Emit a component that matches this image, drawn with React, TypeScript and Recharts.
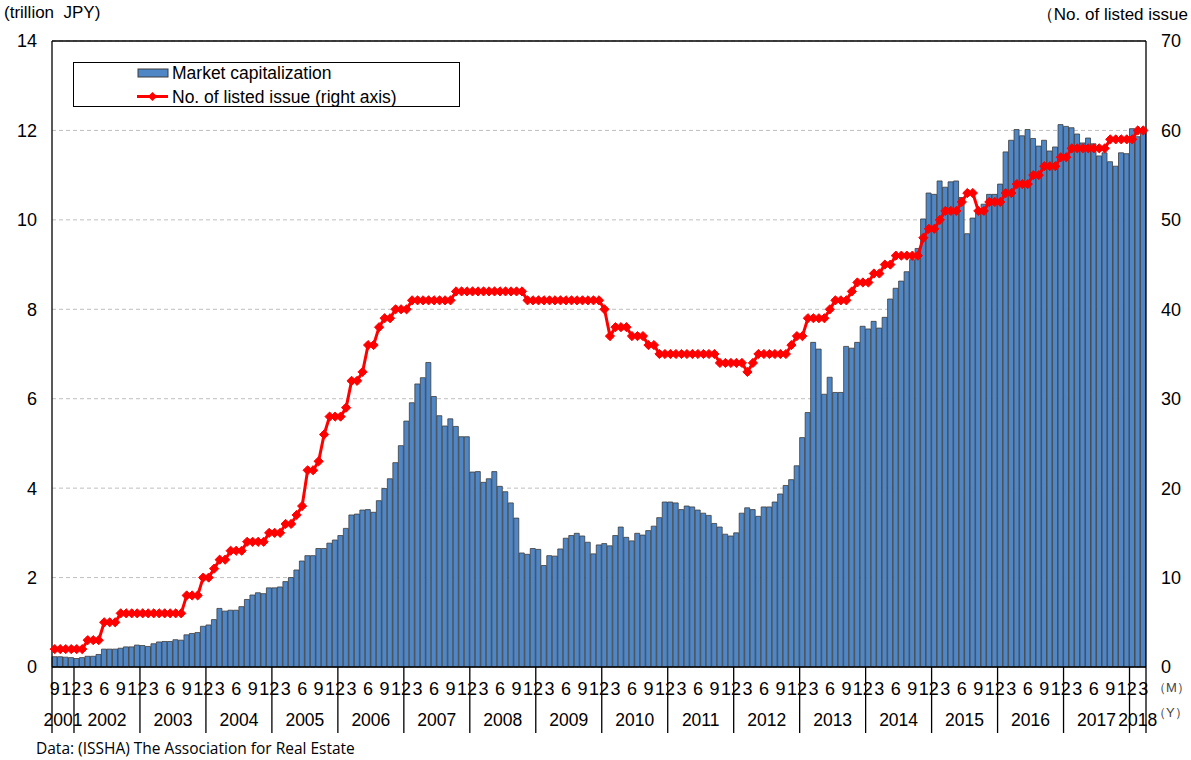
import React from 'react';
import { ComposedChart, Bar, Line, XAxis, YAxis, CartesianGrid, Legend, ReferenceLine } from 'recharts';

// first month in the series: Sep 2001
const START_YEAR = 2001;
const START_MONTH = 9;

// market capitalization (trillion JPY), month-end
const marketCap = [
  0.23, 0.23, 0.22, 0.21, // 2001 (Sep-Dec)
  0.19, 0.21, 0.24, 0.24, 0.28, 0.40, 0.40, 0.40, 0.42, 0.45, 0.45, 0.49, // 2002
  0.48, 0.46, 0.52, 0.56, 0.57, 0.57, 0.61, 0.60, 0.72, 0.75, 0.77, 0.91, // 2003
  0.94, 1.06, 1.31, 1.25, 1.27, 1.27, 1.35, 1.51, 1.61, 1.66, 1.64, 1.77, // 2004
  1.77, 1.79, 1.91, 2.00, 2.17, 2.37, 2.49, 2.49, 2.65, 2.65, 2.77, 2.84, // 2005
  2.94, 3.10, 3.40, 3.42, 3.51, 3.52, 3.46, 3.72, 3.99, 4.21, 4.57, 4.95, // 2006
  5.50, 5.91, 6.33, 6.47, 6.81, 6.05, 5.62, 5.39, 5.55, 5.38, 5.15, 5.15, // 2007
  4.36, 4.37, 4.13, 4.21, 4.37, 4.04, 3.92, 3.67, 3.33, 2.55, 2.52, 2.65, // 2008
  2.63, 2.27, 2.49, 2.48, 2.64, 2.88, 2.94, 2.99, 2.93, 2.79, 2.53, 2.73, // 2009
  2.76, 2.71, 2.94, 3.13, 2.90, 2.82, 2.99, 2.95, 3.05, 3.15, 3.34, 3.69, // 2010
  3.69, 3.67, 3.52, 3.60, 3.58, 3.51, 3.44, 3.39, 3.21, 3.13, 2.97, 2.93, // 2011
  3.00, 3.44, 3.56, 3.52, 3.37, 3.58, 3.58, 3.69, 3.87, 4.06, 4.19, 4.50, // 2012
  5.13, 5.69, 7.26, 7.11, 6.10, 6.48, 6.14, 6.14, 7.17, 7.13, 7.26, 7.62, // 2013
  7.56, 7.73, 7.58, 7.82, 8.23, 8.47, 8.63, 8.84, 9.11, 9.36, 10.02, 10.60, // 2014
  10.57, 10.87, 10.73, 10.85, 10.87, 10.50, 9.69, 10.04, 10.22, 10.35, 10.57, 10.57, // 2015
  10.80, 11.52, 11.78, 12.02, 11.88, 12.02, 11.82, 11.65, 11.78, 11.54, 11.63, 12.13, // 2016
  12.09, 12.06, 11.92, 11.72, 11.83, 11.70, 11.43, 11.50, 11.30, 11.20, 11.50, 11.48, // 2017
  12.04, 11.86, 11.99, // 2018 (Jan-Mar)
];

// number of listed issues (right axis)
const listedIssues = [
  2, 2, 2, 2, // 2001
  2, 2, 3, 3, 3, 5, 5, 5, 6, 6, 6, 6, // 2002
  6, 6, 6, 6, 6, 6, 6, 6, 8, 8, 8, 10, // 2003
  10, 11, 12, 12, 13, 13, 13, 14, 14, 14, 14, 15, // 2004
  15, 15, 16, 16, 17, 18, 22, 22, 23, 26, 28, 28, // 2005
  28, 29, 32, 32, 33, 36, 36, 38, 39, 39, 40, 40, // 2006
  40, 41, 41, 41, 41, 41, 41, 41, 41, 42, 42, 42, // 2007
  42, 42, 42, 42, 42, 42, 42, 42, 42, 42, 41, 41, // 2008
  41, 41, 41, 41, 41, 41, 41, 41, 41, 41, 41, 41, // 2009
  40, 37, 38, 38, 38, 37, 37, 37, 36, 36, 35, 35, // 2010
  35, 35, 35, 35, 35, 35, 35, 35, 35, 34, 34, 34, // 2011
  34, 34, 33, 34, 35, 35, 35, 35, 35, 35, 36, 37, // 2012
  37, 39, 39, 39, 39, 40, 41, 41, 41, 42, 43, 43, // 2013
  43, 44, 44, 45, 45, 46, 46, 46, 46, 46, 48, 49, // 2014
  49, 50, 51, 51, 51, 52, 53, 53, 51, 51, 52, 52, // 2015
  52, 53, 53, 54, 54, 54, 55, 55, 56, 56, 56, 57, // 2016
  57, 58, 58, 58, 58, 58, 58, 58, 59, 59, 59, 59, // 2017
  59, 60, 60, // 2018
];

const leftTicks = [0, 2, 4, 6, 8, 10, 12, 14];
const rightTicks = [0, 10, 20, 30, 40, 50, 60, 70];
const labelledMonths = [3, 6, 9, 12];

const W = 1191;
const H = 760;
const LEFT_W = 52;
const RIGHT_W = 45;
const X_H = 93;
const PLOT_W = W - LEFT_W - RIGHT_W;
const AXIS_Y = H - X_H;
const SLOT = PLOT_W / marketCap.length;
const FONT = '"Liberation Sans", Arial, sans-serif';
const BAR_FILL = '#4F86C6';
const BAR_STROKE = '#3C3C3C';
const RED = '#FF0000';

const data = marketCap.map((cap, i) => {
  const t = START_MONTH - 1 + i;
  return { i, year: START_YEAR + Math.floor(t / 12), month: (t % 12) + 1, cap, issues: listedIssues[i] };
});

// first / last index of every year, for separators and year labels
const yearSpan: Record<number, [number, number]> = {};
data.forEach(d => {
  if (!yearSpan[d.year]) yearSpan[d.year] = [d.i, d.i];
  else yearSpan[d.year][1] = d.i;
});

const MonthTick = (props: any) => {
  const { x, payload } = props;
  const d = data[payload.value];
  if (!d) return <g />;
  const [first, last] = yearSpan[d.year];
  const mid = Math.floor((first + last) / 2);
  const out: React.ReactNode[] = [];
  if (labelledMonths.includes(d.month)) {
    out.push(
      <text key="m" x={x} y={AXIS_Y + 28} textAnchor="middle" fontSize={18} fontFamily={FONT} fill="#000">
        {d.month}
      </text>
    );
  }
  if (d.i === first) {
    out.push(<line key="s" x1={x - SLOT / 2} x2={x - SLOT / 2} y1={AXIS_Y} y2={AXIS_Y + 66} stroke="#000" strokeWidth={1.3} />);
  }
  if (d.i === data.length - 1) {
    out.push(<line key="e" x1={x + SLOT / 2} x2={x + SLOT / 2} y1={AXIS_Y} y2={AXIS_Y + 66} stroke="#000" strokeWidth={1.3} />);
  }
  if (d.i === mid) {
    const cx = x + ((first + last) % 2) * SLOT / 2;
    out.push(
      <text key="y" x={cx} y={AXIS_Y + 59} textAnchor="middle" fontSize={17.5} fontFamily={FONT} fill="#000">
        {d.year}
      </text>
    );
  }
  return <g>{out}</g>;
};

const Diamond = (p: any) => {
  const { cx, cy, index } = p;
  if (cx == null || cy == null) return <g key={`dm-${index}`} />;
  const r = 4.6;
  return (
    <path
      key={`dm-${index}`}
      d={`M${cx},${cy - r}L${cx + r},${cy}L${cx},${cy + r}L${cx - r},${cy}Z`}
      fill={RED}
      stroke={RED}
      strokeWidth={1}
    />
  );
};

const LegendBox = () => (
  <div
    style={{
      width: 387, height: 45, border: '1px solid #000', background: '#fff', boxSizing: 'border-box',
      position: 'relative', fontFamily: FONT, fontSize: 17.5, color: '#000',
    }}
  >
    <svg width={110} height={45} style={{ position: 'absolute', left: -1, top: -1 }}>
      <rect x={65} y={7} width={30} height={8} fill={BAR_FILL} stroke={BAR_STROKE} strokeWidth={1} />
      <line x1={64} x2={95} y1={34.5} y2={34.5} stroke={RED} strokeWidth={3} />
      <path d="M79.5,29.9L84.1,34.5L79.5,39.1L74.9,34.5Z" fill={RED} />
    </svg>
    <div style={{ position: 'absolute', left: 98, top: -1, lineHeight: '22px', whiteSpace: 'nowrap' }}>Market capitalization</div>
    <div style={{ position: 'absolute', left: 98, top: 23, lineHeight: '22px', whiteSpace: 'nowrap' }}>No. of listed issue (right axis)</div>
  </div>
);

const App: React.FC = () => {
  const txt = { position: 'absolute' as const, whiteSpace: 'nowrap' as const, color: '#000', fontFamily: FONT };
  return (
    <div style={{ position: 'absolute', left: 0, top: 0, width: W, height: H, overflow: 'hidden', background: '#fff' }}>
      <ComposedChart
        width={W}
        height={H}
        data={data}
        margin={{ top: 41, right: 0, bottom: 0, left: 0 }}
        barCategoryGap={0}
        barGap={0}
      >
        <CartesianGrid yAxisId="left" vertical={false} stroke="#BFBFBF" strokeDasharray="4 3" />
        <XAxis
          dataKey="i"
          interval={0}
          height={X_H}
          tickLine={false}
          axisLine={{ stroke: '#000', strokeWidth: 1.3 }}
          tick={MonthTick}
        />
        <YAxis
          yAxisId="left"
          domain={[0, 14]}
          ticks={leftTicks}
          width={LEFT_W}
          tickLine={false}
          tickSize={0}
          tickMargin={15}
          axisLine={{ stroke: '#000', strokeWidth: 1.3 }}
          tick={{ fill: '#000', fontSize: 18, fontFamily: FONT }}
        />
        <YAxis
          yAxisId="right"
          orientation="right"
          domain={[0, 70]}
          ticks={rightTicks}
          width={RIGHT_W}
          tickLine={false}
          tickSize={0}
          tickMargin={15}
          axisLine={{ stroke: '#000', strokeWidth: 1.3 }}
          tick={{ fill: '#000', fontSize: 18, fontFamily: FONT, textAnchor: 'start' }}
        />
        <ReferenceLine yAxisId="left" y={14} stroke="#000" strokeWidth={1.3} />
        <Bar
          yAxisId="left"
          dataKey="cap"
          name="Market capitalization"
          fill={BAR_FILL}
          stroke={BAR_STROKE}
          strokeWidth={0.8}
          isAnimationActive={false}
        />
        <Line
          yAxisId="right"
          dataKey="issues"
          name="No. of listed issue (right axis)"
          type="linear"
          stroke={RED}
          strokeWidth={3}
          dot={Diamond}
          activeDot={false}
          isAnimationActive={false}
        />
        <Legend
          layout="horizontal"
          verticalAlign="middle"
          align="center"
          wrapperStyle={{ left: 73, top: 62, width: 387, height: 45 }}
          content={() => <LegendBox />}
        />
      </ComposedChart>

      <div style={{ ...txt, left: 4, top: 3, fontSize: 17 }}>(trillion&nbsp;&nbsp;JPY)</div>
      <div style={{ ...txt, right: 3, top: 3, fontSize: 17 }}>（No. of listed issue</div>
      <div style={{ ...txt, left: 1153, top: 679, fontSize: 13, color: '#444' }}>（M）</div>
      <div style={{ ...txt, left: 1153, top: 704, fontSize: 13, color: '#444' }}>（Y）</div>
      <div style={{ ...txt, left: 36, top: 737, fontSize: 15.5, fontFamily: '"Open Sans", "Noto Sans", sans-serif' }}>
        Data: (ISSHA) The Association for Real Estate
      </div>
    </div>
  );
};

export default App;
